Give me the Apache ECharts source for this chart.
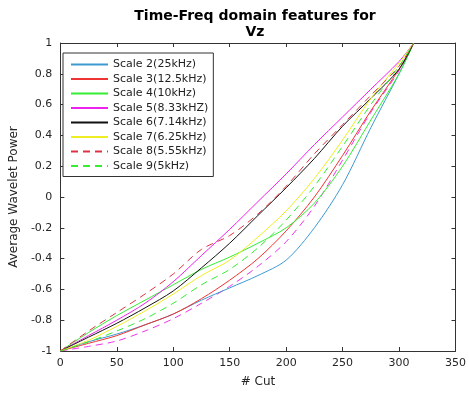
<!DOCTYPE html>
<html><head><meta charset="utf-8">
<script src="https://cdn.jsdelivr.net/npm/echarts@6/dist/echarts.min.js"></script>
<style>html,body{margin:0;padding:0;background:#fff}#c{width:469px;height:393px}</style>
</head><body><div id="c"></div>
<script>
const cuts = [0, 25, 50, 75, 100, 125, 150, 175, 200, 225, 250, 275, 300, 313];
const scale2 = [-1, -0.94, -0.89, -0.83, -0.76, -0.67, -0.59, -0.51, -0.41, -0.2, 0.08, 0.45, 0.8, 1];
const scale3 = [-1, -0.95, -0.9, -0.83, -0.76, -0.66, -0.54, -0.4, -0.22, 0.0, 0.27, 0.56, 0.83, 1];
const scale4 = [-1, -0.88, -0.77, -0.67, -0.57, -0.47, -0.39, -0.3, -0.2, -0.04, 0.2, 0.5, 0.8, 1];
const scale5 = [-1, -0.9, -0.8, -0.69, -0.55, -0.38, -0.21, -0.03, 0.15, 0.34, 0.52, 0.7, 0.88, 1];
const scale6 = [-1, -0.91, -0.82, -0.72, -0.61, -0.46, -0.3, -0.12, 0.06, 0.25, 0.46, 0.64, 0.83, 1];
const scale7 = [-1, -0.93, -0.84, -0.74, -0.63, -0.51, -0.41, -0.26, -0.09, 0.12, 0.37, 0.64, 0.87, 1];
const scale8 = [-1, -0.87, -0.75, -0.63, -0.5, -0.34, -0.25, -0.11, 0.07, 0.28, 0.47, 0.66, 0.85, 1];
const scale9 = [-1, -0.94, -0.87, -0.79, -0.69, -0.57, -0.47, -0.33, -0.15, 0.07, 0.33, 0.6, 0.85, 1];
const extra = [-1, -0.97, -0.935, -0.87, -0.79, -0.69, -0.58, -0.45, -0.29, -0.06, 0.24, 0.55, 0.82, 1];
const names = ['Scale 2(25kHz)', 'Scale 3(12.5kHz)', 'Scale 4(10kHz)', 'Scale 5(8.33kHZ)', 'Scale 6(7.14kHz)', 'Scale 7(6.25kHz)', 'Scale 8(5.55kHz)', 'Scale 9(5kHz)'];
const xTicks = [0, 50, 100, 150, 200, 250, 300, 350];
const yTicks = [-1, -0.8, -0.6, -0.4, -0.2, 0, 0.2, 0.4, 0.6, 0.8, 1];

const pair = arr => cuts.map((c, i) => [c, arr[i]]);
const styles = [
  {c: '#3d9ad1', t: 'solid'},
  {c: '#ee3333', t: 'solid'},
  {c: '#33ee33', t: 'solid'},
  {c: '#ee22ee', t: 'solid'},
  {c: '#111111', t: 'solid'},
  {c: '#eeee22', t: 'solid'},
  {c: '#dd3344', t: [7, 5]},
  {c: '#33ee33', t: [7, 5]}
];
const datas = [scale2, scale3, scale4, scale5, scale6, scale7, scale8, scale9];
const series = datas.map((d, i) => ({
  name: names[i], type: 'line', data: pair(d), symbol: 'none', smooth: 0.3,
  lineStyle: {color: styles[i].c, width: 1, type: styles[i].t},
  itemStyle: {color: styles[i].c}, animation: false, z: 3
}));
series.push({
  name: 'extra', type: 'line', data: pair(extra), symbol: 'none', smooth: 0.3,
  lineStyle: {color: '#ee33ee', width: 1, type: [7, 5]}, animation: false, z: 2
});
const axCol = '#333';
const lab = {color: '#262626', fontSize: 11, fontFamily: 'DejaVu Sans'};
const chart = echarts.init(document.getElementById('c'));
chart.setOption({
  animation: false,
  title: {text: 'Time-Freq domain features for\nVz', left: 250, textAlign: 'center', top: 3,
    textStyle: {fontSize: 14, fontWeight: 'bold', fontFamily: 'DejaVu Sans', color: '#000', lineHeight: 16}},
  grid: {left: 57, right: 10, top: 43, bottom: 40},
  legend: {
    data: names, orient: 'vertical', left: 63, top: 53, padding: [6, 5, 5, 7],
    itemWidth: 37, itemHeight: 8, itemGap: 3.5,
    itemStyle: {opacity: 0},
    borderColor: '#333', borderWidth: 1, backgroundColor: '#fff',
    textStyle: {fontSize: 11, fontFamily: 'DejaVu Sans', color: '#222'}
  },
  xAxis: [
    {type: 'value', min: 0, max: 350, interval: 50, position: 'bottom',
      name: '# Cut', nameLocation: 'middle', nameGap: 25, nameTextStyle: {fontSize: 12, color: '#262626', fontFamily: 'DejaVu Sans'},
      axisLine: {onZero: false, lineStyle: {color: axCol}}, axisTick: {inside: true, length: 4, lineStyle: {color: axCol}},
      axisLabel: Object.assign({margin: 7}, lab), splitLine: {show: false}},
    {type: 'value', min: 0, max: 350, interval: 50, position: 'top',
      axisLine: {show: true, onZero: false, lineStyle: {color: axCol}}, axisTick: {inside: true, length: 4, lineStyle: {color: axCol}},
      axisLabel: {show: false}, splitLine: {show: false}}
  ],
  yAxis: [
    {type: 'value', min: -1, max: 1, interval: 0.2, position: 'left',
      name: 'Average Wavelet Power', nameLocation: 'middle', nameGap: 36, nameTextStyle: {fontSize: 12, color: '#262626', fontFamily: 'DejaVu Sans'},
      axisLine: {onZero: false, lineStyle: {color: axCol}}, axisTick: {inside: true, length: 4, lineStyle: {color: axCol}},
      axisLabel: Object.assign({margin: 8, formatter: v => String(Math.round(v * 10) / 10)}, lab), splitLine: {show: false}},
    {type: 'value', min: -1, max: 1, interval: 0.2, position: 'right',
      axisLine: {show: true, onZero: false, lineStyle: {color: axCol}}, axisTick: {inside: true, length: 4, lineStyle: {color: axCol}},
      axisLabel: {show: false}, splitLine: {show: false}}
  ],
  series: series
});
</script></body></html>
